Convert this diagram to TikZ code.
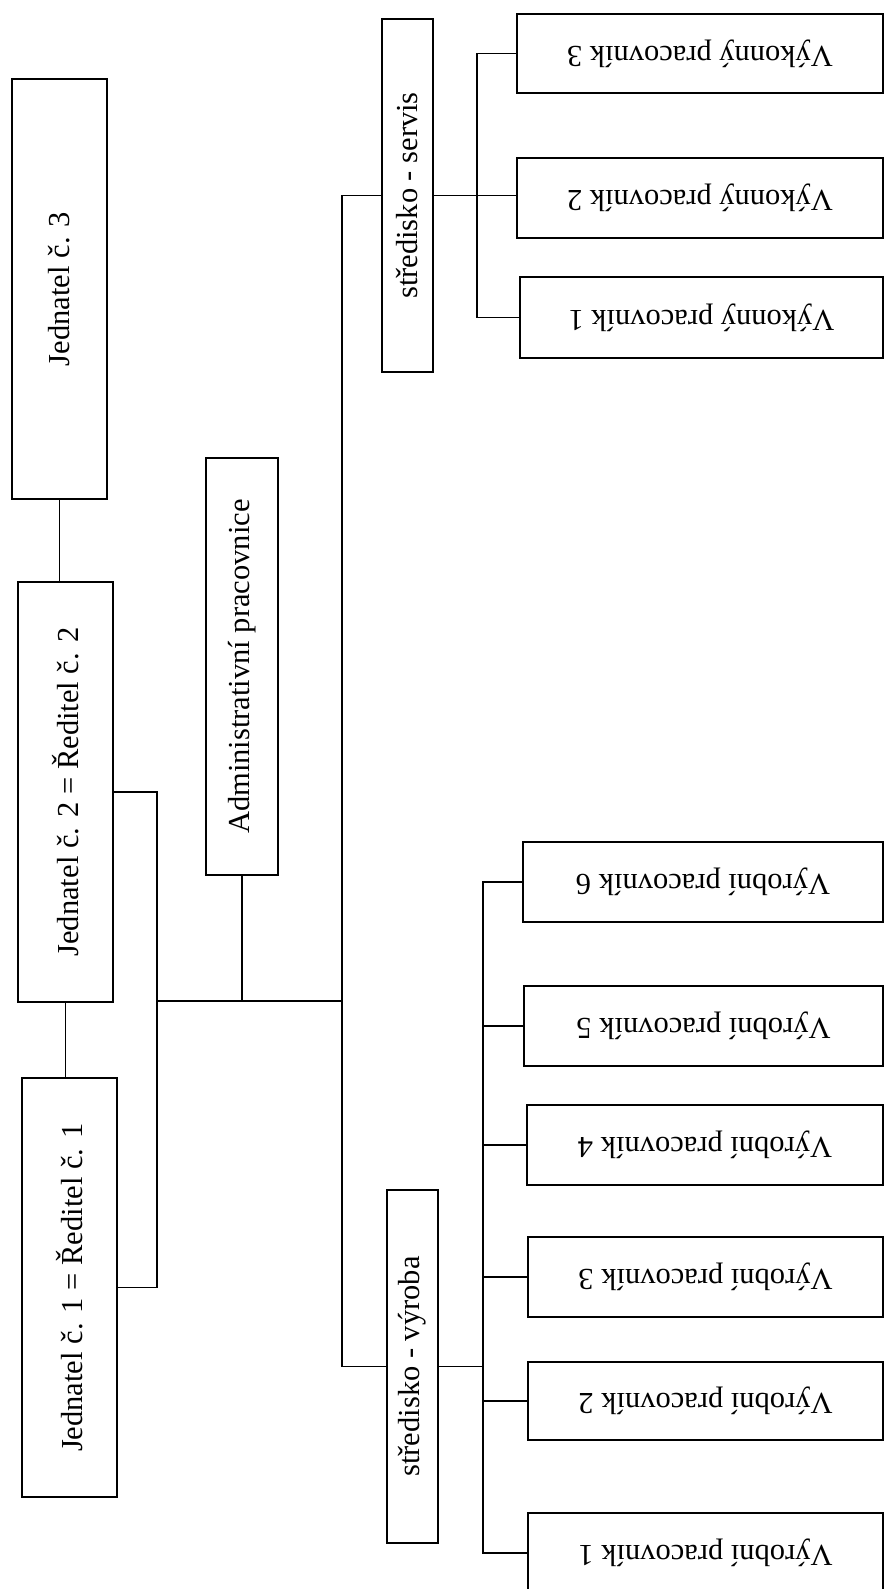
\documentclass[tikz,border=0pt]{standalone}
\usepackage{fontspec}
\setmainfont{Liberation Serif}
\tikzset{
  box/.style={draw=black, line width=1.9pt, inner sep=0pt, align=center,
    font=\fontsize{30.5}{36}\selectfont},
  conn/.style={draw=black, line width=1.5pt}
}
\begin{document}
\begin{tikzpicture}[x=1pt,y=-1pt]
\useasboundingbox (0,0) rectangle (885,1589);
% left column
\node[box, minimum width=95pt, minimum height=420pt] (J3) at (59.5,289) {\rotatebox{90}{Jednatel č. 3}};
\node[box, minimum width=95pt, minimum height=420pt] (J2) at (65.5,792) {\rotatebox{90}{Jednatel č. 2 = Ředitel č. 2}};
\node[box, minimum width=95pt, minimum height=419pt] (J1) at (69.5,1287.5) {\rotatebox{90}{Jednatel č. 1 = Ředitel č. 1}};
\node[box, minimum width=72pt, minimum height=417pt] (AD) at (242,666.5) {\rotatebox{90}{Administrativní pracovnice}};
% centres
\node[box, minimum width=51pt, minimum height=353pt] (SS) at (407.5,195.5) {\rotatebox{90}{středisko - servis}};
\node[box, minimum width=51pt, minimum height=353pt] (SV) at (412.5,1366.5) {\rotatebox{90}{středisko - výroba}};
% workers - servis
\node[box, minimum width=366pt, minimum height=79pt] (K3) at (700,53.5) {\rotatebox{180}{Výkonný pracovník 3}};
\node[box, minimum width=366pt, minimum height=80pt] (K2) at (700,198) {\rotatebox{180}{Výkonný pracovník 2}};
\node[box, minimum width=363pt, minimum height=81pt] (K1) at (701.5,317.5) {\rotatebox{180}{Výkonný pracovník 1}};
% workers - vyroba
\node[box, minimum width=360pt, minimum height=80pt] (V6) at (703,882) {\rotatebox{180}{Výrobní pracovník 6}};
\node[box, minimum width=359pt, minimum height=80pt] (V5) at (703.5,1026) {\rotatebox{180}{Výrobní pracovník 5}};
\node[box, minimum width=356pt, minimum height=80pt] (V4) at (705,1145) {\rotatebox{180}{Výrobní pracovník 4}};
\node[box, minimum width=355pt, minimum height=80pt] (V3) at (705.5,1277) {\rotatebox{180}{Výrobní pracovník 3}};
\node[box, minimum width=355pt, minimum height=78pt] (V2) at (705.5,1401) {\rotatebox{180}{Výrobní pracovník 2}};
\node[box, minimum width=355pt, minimum height=80pt] (V1) at (705.5,1553) {\rotatebox{180}{Výrobní pracovník 1}};
% helper coordinates
\coordinate (bx) at (157,0);
\coordinate (tx) at (342,0);
\coordinate (hy) at (0,1001);
\coordinate (sbx) at (477,0);
\coordinate (vbx) at (483,0);
% connectors left column
\draw[conn] (J3.south) -- (J3.south |- J2.north);
\draw[conn] (J2.south) -- (J2.south |- J1.north);
\draw[conn] (J2.east) -- (J2.east -| bx) -- (J1.east -| bx) -- (J1.east);
\draw[conn] (bx |- hy) -- (tx |- hy);
\draw[conn] (AD.south) -- (AD.south |- hy);
% trunk
\draw[conn] (SS.west) -- (SS.west -| tx) -- (SV.west -| tx) -- (SV.west);
% servis bracket
\draw[conn] (SS.east) -- (SS.east -| K2.west);
\draw[conn] (K3.west) -- (K3.west -| sbx) -- (K1.west -| sbx) -- (K1.west);
% vyroba bracket
\draw[conn] (SV.east) -- (SV.east -| vbx);
\draw[conn] (V6.west) -- (V6.west -| vbx) -- (V1.west -| vbx) -- (V1.west);
\draw[conn] (V5.west) -- (V5.west -| vbx);
\draw[conn] (V4.west) -- (V4.west -| vbx);
\draw[conn] (V3.west) -- (V3.west -| vbx);
\draw[conn] (V2.west) -- (V2.west -| vbx);
\end{tikzpicture}
\end{document}
